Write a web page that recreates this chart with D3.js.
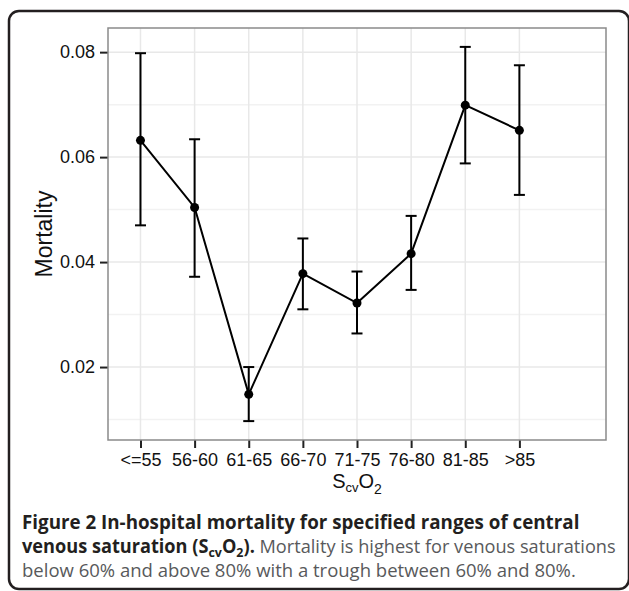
<!DOCTYPE html>
<html>
<head>
<meta charset="utf-8">
<script src="https://cdn.jsdelivr.net/npm/d3@7"></script>
<style>
  body { margin: 0; background: #fff; }
  svg text { font-family: "Liberation Sans", Arial, sans-serif; }
  .caption text { font-family: "Open Sans", sans-serif; }
</style>
</head>
<body>
<div class="canvas"></div>
<script>
// data
const categories = ["<=55", "56-60", "61-65", "66-70", "71-75", "76-80", "81-85", ">85"];
const mortality = [0.0632, 0.0504, 0.0148, 0.0378, 0.0322, 0.0416, 0.0699, 0.0651];
const lower = [0.047, 0.0372, 0.0097, 0.031, 0.0264, 0.0347, 0.0588, 0.0528];
const upper = [0.0798, 0.0634, 0.02, 0.0445, 0.0382, 0.0488, 0.081, 0.0775];
const yTicks = [0.02, 0.04, 0.06, 0.08];
const yMinor = [0.01, 0.03, 0.05, 0.07];

const data = categories.map((c, i) => ({
  i: i,
  cat: c,
  value: mortality[i],
  lo: lower[i],
  hi: upper[i],
}));

const margins = { top: 28, left: 108 };
const graphWidth = 498;
const graphHeight = 412;

const svg = d3
  .select(".canvas")
  .append("svg")
  .attr("width", 629)
  .attr("height", 591);

// outer rounded frame
svg
  .append("rect")
  .attr("x", 9)
  .attr("y", 11)
  .attr("width", 620)
  .attr("height", 578)
  .attr("rx", 10)
  .attr("fill", "none")
  .attr("stroke", "#231f20")
  .attr("stroke-width", 2.5);

const graph = svg
  .append("g")
  .attr("transform", `translate(${margins.left}, ${margins.top})`);

// scales
const x = d3.scaleLinear().domain([-0.6, 8.6]).range([0, graphWidth]);
const y = d3.scaleLinear().domain([0.0061, 0.0846]).range([graphHeight, 0]);

// panel background + grid
graph
  .append("rect")
  .attr("width", graphWidth)
  .attr("height", graphHeight)
  .attr("fill", "#fff");

graph
  .selectAll(".minor")
  .data(yMinor)
  .enter()
  .append("line")
  .attr("x1", 0)
  .attr("x2", graphWidth)
  .attr("y1", (d) => y(d))
  .attr("y2", (d) => y(d))
  .attr("stroke", "#f2f2f2")
  .attr("stroke-width", 1.5);

graph
  .selectAll(".hmajor")
  .data(yTicks)
  .enter()
  .append("line")
  .attr("x1", 0)
  .attr("x2", graphWidth)
  .attr("y1", (d) => y(d))
  .attr("y2", (d) => y(d))
  .attr("stroke", "#e8e8e8")
  .attr("stroke-width", 1.5);

graph
  .selectAll(".vmajor")
  .data(data)
  .enter()
  .append("line")
  .attr("x1", (d) => x(d.i))
  .attr("x2", (d) => x(d.i))
  .attr("y1", 0)
  .attr("y2", graphHeight)
  .attr("stroke", "#e8e8e8")
  .attr("stroke-width", 1.5);

// axes
const xAxis = d3
  .axisBottom(x)
  .tickValues(data.map((d) => d.i))
  .tickFormat((i) => categories[i])
  .tickSize(8)
  .tickPadding(5);
const yAxis = d3
  .axisLeft(y)
  .tickValues(yTicks)
  .tickFormat(d3.format(".2f"))
  .tickSize(8)
  .tickPadding(5);

const xAxisGroup = graph
  .append("g")
  .attr("transform", `translate(0, ${graphHeight})`)
  .call(xAxis);
const yAxisGroup = graph.append("g").call(yAxis);

[xAxisGroup, yAxisGroup].forEach((g) => {
  g.select(".domain").remove();
  g.selectAll(".tick line").attr("stroke", "#222").attr("stroke-width", 2);
  g.selectAll("text")
    .attr("fill", "#111")
    .style("font-size", "18px")
    .style("font-family", '"Liberation Sans", Arial, sans-serif');
});

// panel border
graph
  .append("rect")
  .attr("width", graphWidth)
  .attr("height", graphHeight)
  .attr("fill", "none")
  .attr("stroke", "#8a8a8a")
  .attr("stroke-width", 1.5);

// error bars
const bars = graph.append("g").attr("stroke", "#000").attr("stroke-width", 2);
bars
  .selectAll(".err")
  .data(data)
  .enter()
  .append("line")
  .attr("x1", (d) => x(d.i))
  .attr("x2", (d) => x(d.i))
  .attr("y1", (d) => y(d.lo))
  .attr("y2", (d) => y(d.hi));
bars
  .selectAll(".capHi")
  .data(data)
  .enter()
  .append("line")
  .attr("x1", (d) => x(d.i) - 5.5)
  .attr("x2", (d) => x(d.i) + 5.5)
  .attr("y1", (d) => y(d.hi))
  .attr("y2", (d) => y(d.hi));
bars
  .selectAll(".capLo")
  .data(data)
  .enter()
  .append("line")
  .attr("x1", (d) => x(d.i) - 5.5)
  .attr("x2", (d) => x(d.i) + 5.5)
  .attr("y1", (d) => y(d.lo))
  .attr("y2", (d) => y(d.lo));

// line path
const line = d3
  .line()
  .x((d) => x(d.i))
  .y((d) => y(d.value));

graph
  .append("path")
  .datum(data)
  .attr("fill", "none")
  .attr("stroke", "#000")
  .attr("stroke-width", 2)
  .attr("d", line);

graph
  .selectAll("circle")
  .data(data)
  .enter()
  .append("circle")
  .attr("r", 4.5)
  .attr("cx", (d) => x(d.i))
  .attr("cy", (d) => y(d.value))
  .attr("fill", "#000");

// axis titles
svg
  .append("text")
  .attr("transform", "translate(52, 234) rotate(-90)")
  .attr("text-anchor", "middle")
  .style("font-size", "23px")
  .attr("fill", "#111")
  .text("Mortality");

const xTitle = svg
  .append("text")
  .attr("x", margins.left + graphWidth / 2)
  .attr("y", 488)
  .attr("text-anchor", "middle")
  .style("font-size", "20px")
  .attr("fill", "#111");
xTitle.append("tspan").text("S");
xTitle.append("tspan").attr("dy", 4).style("font-size", "13px").text("cv");
xTitle.append("tspan").attr("dy", -4).text("O");
xTitle.append("tspan").attr("dy", 6).style("font-size", "14px").text("2");

// caption: squeeze each line horizontally to the width seen in the figure
const caption = svg.append("g").attr("class", "caption");
const dark = "#231f20";
const grey = "#58595b";

const fitLine = (t, yPos, width) => {
  const w = t.node().getComputedTextLength();
  t.attr("transform", `translate(22, ${yPos}) scale(${width / w}, 1)`);
};

const l1 = caption
  .append("text")
  .attr("fill", dark)
  .style("font-size", "19px")
  .style("font-weight", 700)
  .text("Figure 2 In-hospital mortality for specified ranges of central");
fitLine(l1, 529, 558);

const l2 = caption.append("text").style("font-size", "19px");
l2.append("tspan").attr("fill", dark).style("font-weight", 700).text("venous saturation (S");
l2.append("tspan").attr("fill", dark).style("font-weight", 700).attr("dy", 4).style("font-size", "13px").text("cv");
l2.append("tspan").attr("fill", dark).style("font-weight", 700).attr("dy", -4).text("O");
l2.append("tspan").attr("fill", dark).style("font-weight", 700).attr("dy", 4).style("font-size", "13px").text("2");
l2.append("tspan").attr("fill", dark).style("font-weight", 700).attr("dy", -4).text(").");
l2.append("tspan").attr("fill", grey).text(" Mortality is highest for venous saturations");
fitLine(l2, 553, 594);

const l3 = caption
  .append("text")
  .attr("fill", grey)
  .style("font-size", "19px")
  .text("below 60% and above 80% with a trough between 60% and 80%.");
fitLine(l3, 577, 554);
</script>
</body>
</html>
